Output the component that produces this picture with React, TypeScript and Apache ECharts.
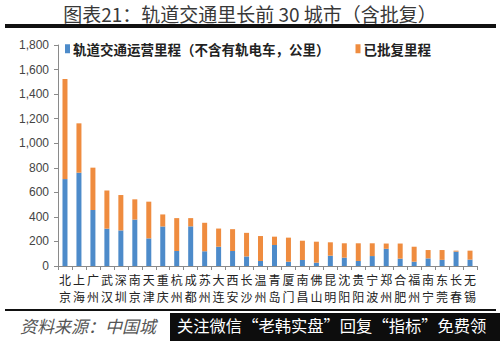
import React, { useEffect, useRef } from "react";
import * as echarts from "echarts";

const categories = ["北京","上海","广州","武汉","深圳","南京","天津","重庆","杭州","成都","苏州","大连","西安","长沙","温州","青岛","厦门","南昌","佛山","昆明","沈阳","贵阳","宁波","郑州","合肥","福州","南宁","东莞","长春","无锡"];
const operating = [708,760,456,304,290,378,225,322,122,323,120,157,122,78,41,171,35,49,27,84,68,41,81,140,60,35,62,50,117,52];
const approved = [815,402,345,311,288,165,299,98,268,67,232,148,178,192,203,68,196,157,171,109,117,144,104,43,123,122,68,80,8,73];
const yTicks = { min: 0, max: 1800, interval: 200 };
const seriesNames = ["轨道交通运营里程（不含有轨电车，公里）", "已批复里程"];
const titleText = "图表21：轨道交通里长前 30 城市（含批复）";
const sourceText = "资料来源：中国城";
const overlayText = "关注微信“老韩实盘”回复“指标”免费领";

export default function App() {
  const ref = useRef<HTMLDivElement>(null);
  useEffect(() => {
    if (!ref.current) return;
    const chart = echarts.init(ref.current, null, { renderer: "svg" });
    const cjk = "'Noto Sans CJK SC', sans-serif";
    chart.setOption({
      animation: false,
      backgroundColor: "#ffffff",
      textStyle: { fontFamily: cjk },
      grid: { left: 58, right: 23, top: 45, bottom: 75, containLabel: false },
      legend: {
        left: 60,
        top: 37,
        icon: "rect",
        itemWidth: 5,
        itemHeight: 9,
        itemGap: 26,
        textStyle: { fontSize: 13.5, fontWeight: "bold", color: "#222", fontFamily: cjk, padding: [0, 0, 0, -2] },
        data: seriesNames,
      },
      xAxis: {
        type: "category",
        data: categories,
        axisLine: { lineStyle: { color: "#8a8a8a", width: 1 } },
        axisTick: { show: true, alignWithLabel: false, length: 4, lineStyle: { color: "#8a8a8a" } },
        axisLabel: {
          interval: 0,
          margin: 5,
          fontSize: 12,
          lineHeight: 17,
          color: "#222",
          fontFamily: cjk,
          formatter: (v: string) => v.split("").join("\n"),
        },
      },
      yAxis: {
        type: "value",
        min: yTicks.min,
        max: yTicks.max,
        interval: yTicks.interval,
        splitLine: { show: false },
        axisLine: { show: true, lineStyle: { color: "#8a8a8a", width: 1 } },
        axisTick: { show: true, length: 4, lineStyle: { color: "#8a8a8a" } },
        axisLabel: {
          margin: 9,
          fontSize: 12,
          color: "#444",
          fontFamily: "'Liberation Sans', Arial, sans-serif",
          formatter: (v: number) => v.toLocaleString("en-US"),
        },
      },
      series: [
        {
          name: seriesNames[0],
          type: "bar",
          stack: "total",
          barWidth: 5,
          itemStyle: { color: "#4d8bca" },
          data: operating,
        },
        {
          name: seriesNames[1],
          type: "bar",
          stack: "total",
          barWidth: 5,
          itemStyle: { color: "#ef8c3f" },
          data: approved,
        },
      ],
      graphic: [
        {
          type: "text",
          x: 250,
          y: 13,
          style: {
            text: titleText,
            fontSize: 19,
            fill: "#383838",
            fontFamily: cjk,
            align: "center",
            verticalAlign: "middle",
          },
        },
        {
          type: "rect",
          shape: { x: 5, y: 24, width: 491, height: 4 },
          style: { fill: "#111" },
        },
        {
          type: "rect",
          shape: { x: 5, y: 309, width: 491, height: 2 },
          style: { fill: "#111" },
        },
        {
          type: "text",
          left: 20,
          top: 317,
          style: { text: sourceText, fontSize: 17, fill: "#555", fontStyle: "italic", fontFamily: cjk },
        },
        {
          type: "rect",
          z: 100,
          shape: { x: 170, y: 313, width: 330, height: 28 },
          style: { fill: "#0d0d0d" },
        },
        {
          type: "text",
          z: 101,
          left: 177,
          top: 317,
          style: { text: overlayText, fontSize: 16.3, fill: "#ffffff", fontFamily: cjk },
        },
      ],
    });
    return () => chart.dispose();
  }, []);
  return <div ref={ref} style={{ position: "fixed", left: 0, top: 0, width: 500, height: 341 }} />;
}
